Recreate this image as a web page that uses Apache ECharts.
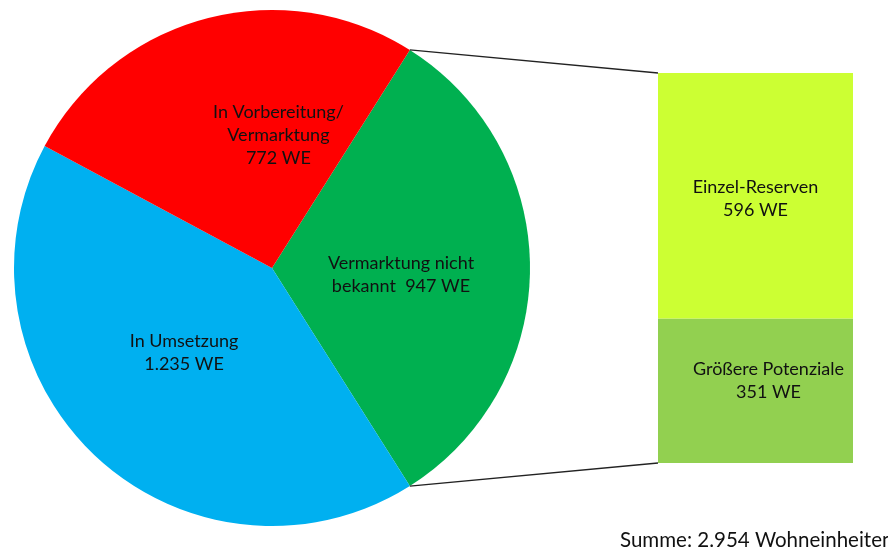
<!DOCTYPE html>
<html>
<head>
<meta charset="utf-8">
<script src="https://cdn.jsdelivr.net/npm/echarts@6/dist/echarts.min.js"></script>
<style>
  html, body { margin: 0; padding: 0; background: #fff; }
  #chart { width: 888px; height: 548px; }
</style>
</head>
<body>
<div id="chart"></div>
<script>
// pie slices (clockwise from the green one)
var pieNames = ['Vermarktung nicht\nbekannt  947 WE', 'In Umsetzung\n1.235 WE', 'In Vorbereitung/\nVermarktung\n772 WE'];
var pieValues = [947, 1235, 772];
var pieColors = ['#00b050', '#00b0f0', '#ff0000'];

// breakdown of the green slice
var barNames = ['Größere Potenziale\n351 WE', 'Einzel-Reserven\n596 WE'];
var barValues = [351, 596];
var barColors = ['#92d050', '#ccff33'];

var sumText = 'Summe: 2.954 Wohneinheiten';

var FONT = 'Lato';
var FSIZE = 18;
var center = [272, 268];
var radius = 258;
var barGrid = { left: 658, top: 73, width: 195, height: 390 };

var total = pieValues.reduce(function (a, b) { return a + b; }, 0);
var barMax = barValues[0] + barValues[1];
var startAngle = pieValues[0] / total * 360 / 2;

// label shifts to put the texts where the original has them
var pieShift = [[-3, 7], [2, -12], [40, -5]];

// connector lines from the green slice edges to the bar corners
var a = startAngle * Math.PI / 180;
var pTop = [center[0] + radius * Math.cos(a), center[1] - radius * Math.sin(a)];
var pBot = [center[0] + radius * Math.cos(a), center[1] + radius * Math.sin(a)];
var barTopY = barGrid.top;
var barBotY = barGrid.top + barGrid.height;

var chart = echarts.init(document.getElementById('chart'));

var option = {
    animation: false,
    backgroundColor: '#fff',
    textStyle: { fontFamily: FONT },
    grid: barGrid,
    xAxis: { type: 'category', data: ['x'], show: false },
    yAxis: { type: 'value', min: 0, max: barMax, show: false },
    graphic: [
        { type: 'line', shape: { x1: pTop[0], y1: pTop[1], x2: barGrid.left, y2: barTopY },
          style: { stroke: '#222', lineWidth: 1.3 }, z: 10 },
        { type: 'line', shape: { x1: pBot[0], y1: pBot[1], x2: barGrid.left, y2: barBotY },
          style: { stroke: '#222', lineWidth: 1.3 }, z: 10 },
        { type: 'text', x: 620, y: 540,
          style: { text: sumText, fontFamily: FONT, fontSize: 20.5, fill: '#111',
                   verticalAlign: 'middle' } }
    ],
    series: [
        {
            type: 'pie',
            center: center,
            radius: radius,
            startAngle: startAngle,
            clockwise: true,
            avoidLabelOverlap: false,
            label: {
                show: true,
                position: 'inside',
                formatter: '{b}',
                color: '#111',
                fontFamily: FONT,
                fontSize: FSIZE,
                lineHeight: 23,
                align: 'center'
            },
            labelLine: { show: false },
            labelLayout: function (p) {
                var s = pieShift[p.dataIndex];
                return { dx: s[0], dy: s[1] };
            },
            emphasis: { disabled: true },
            data: pieValues.map(function (v, i) {
                return { name: pieNames[i], value: v, itemStyle: { color: pieColors[i] } };
            })
        },
        {
            type: 'bar',
            stack: 'b',
            barWidth: '100%',
            data: [barValues[0]],
            itemStyle: { color: barColors[0] },
            label: {
                show: true, position: 'inside', formatter: barNames[0],
                color: '#111', fontFamily: FONT, fontSize: FSIZE, lineHeight: 23,
                offset: [13, -10]
            }
        },
        {
            type: 'bar',
            stack: 'b',
            barWidth: '100%',
            data: [barValues[1]],
            itemStyle: { color: barColors[1] },
            label: {
                show: true, position: 'inside', formatter: barNames[1],
                color: '#111', fontFamily: FONT, fontSize: FSIZE, lineHeight: 23,
                offset: [0, 3]
            }
        }
    ]
};
chart.setOption(option);
</script>
</body>
</html>
